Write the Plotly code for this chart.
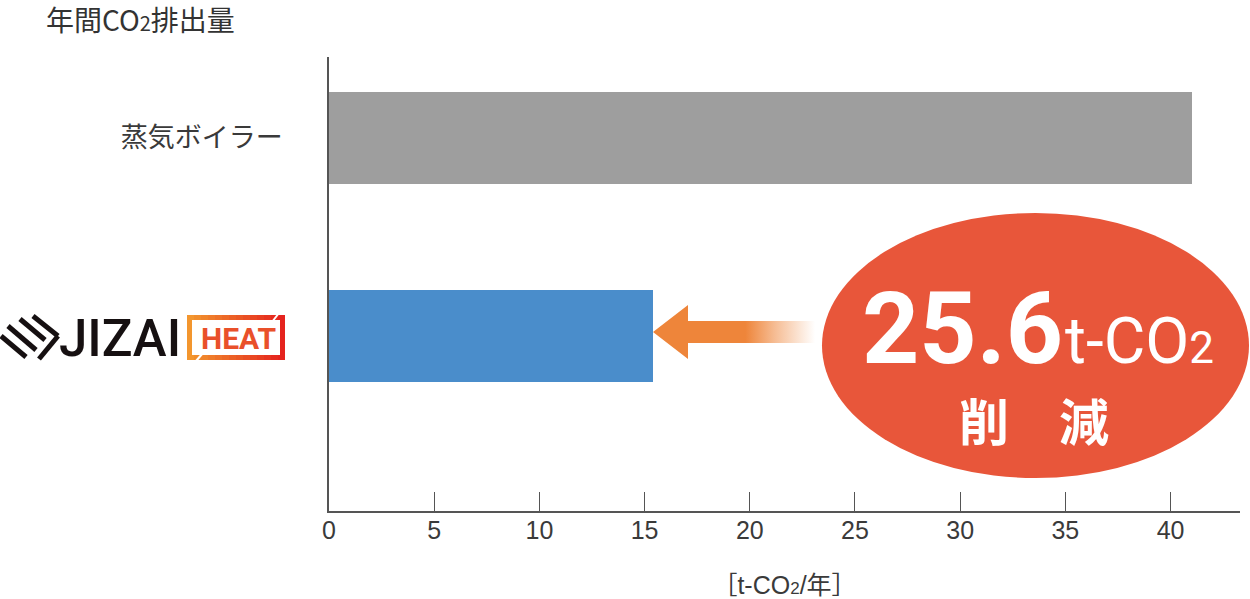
import plotly.graph_objects as go

# ---------------- data ----------------
categories = ["蒸気ボイラー", "JIZAI HEAT"]
values = [41.0, 15.4]
bar_colors = ["#9E9E9E", "#4A8DCB"]
x_tickvals = [0, 5, 10, 15, 20, 25, 30, 35, 40]
x_ticktext = ["0", "5", "10", "15", "20", "25", "30", "35", "40"]
title_text = "年間CO<span style='font-size:20px'>2</span>排出量"
x_title_text = "［t-CO<span style='font-size:17px'>2</span>/年］"
reduction_value = "25.6"
reduction_unit = "t-CO<span style='font-size:44px'>2</span>"
reduction_word = "削　減"
logo_word = "JIZAI"
logo_badge = "HEAT"

# ---------------- layout geometry (pixels) ----------------
W, H = 1250, 599
L, R, T, B = 329, 1240, 57, 511
X_MAX = 43.3
Y_LO, Y_HI = -0.884, 1.409
ypos = list(range(len(categories)))[::-1]   # first category on top

ux = X_MAX / (R - L)          # data units per px (x)
uy = (Y_HI - Y_LO) / (B - T)  # data units per px (y)


def px(x):
    return (x - L) / (R - L)


def py(y):
    return (B - y) / (B - T)


fig = go.Figure()

fig.add_trace(go.Bar(
    x=values, y=ypos, orientation="h",
    marker=dict(color=bar_colors, line=dict(width=0)),
    width=0.465, hoverinfo="x", showlegend=False,
))

# arrow pointing to JIZAI bar end (gradient fade on the tail)
tip = values[1]
yc = ypos[1] + 4 * uy
head_len = 35 * ux
tail_len = 162 * ux
head_h = 27 * uy
shaft_h = 11 * uy
ax = [tip, tip + head_len, tip + head_len, tip + tail_len, tip + tail_len,
      tip + head_len, tip + head_len, tip]
ay = [yc, yc + head_h, yc + shaft_h, yc + shaft_h, yc - shaft_h,
      yc - shaft_h, yc - head_h, yc]
fig.add_trace(go.Scatter(
    x=ax, y=ay, mode="lines", fill="toself", line=dict(width=0),
    fillgradient=dict(type="horizontal", colorscale=[
        [0, "rgba(238,133,58,1)"], [0.57, "rgba(238,133,58,1)"],
        [0.75, "rgba(238,133,58,0.55)"], [1, "rgba(238,133,58,0)"]]),
    hoverinfo="skip", showlegend=False,
))

shapes = []
# big ellipse
shapes.append(dict(type="circle", xref="paper", yref="paper",
                   x0=px(822), x1=px(1249), y0=py(478), y1=py(213),
                   fillcolor="#E8563A", line=dict(width=0), layer="above"))

# logo chevron icon
for (x0, y0, x1, y1) in [(33, 316, 58, 336), (58, 336, 39, 359),
                         (20, 319, 45, 340), (8, 326, 36, 350), (1, 336, 26, 357)]:
    shapes.append(dict(type="line", xref="paper", yref="paper",
                       x0=px(x0), y0=py(y0), x1=px(x1), y1=py(y1),
                       line=dict(color="#161011", width=5)))

# HEAT badge: gradient border via slices
n = 14
c0 = (243, 150, 46)
c1 = (229, 35, 30)
bx0, bx1, by0, by1 = 187, 285, 315, 360
for i in range(n):
    t = i / (n - 1)
    col = "rgb(%d,%d,%d)" % tuple(int(c0[k] + (c1[k] - c0[k]) * t) for k in range(3))
    xa = bx0 + (bx1 - bx0) * i / n
    xb = bx0 + (bx1 - bx0) * (i + 1) / n + 0.6
    shapes.append(dict(type="rect", xref="paper", yref="paper",
                       x0=px(xa), x1=px(min(xb, bx1)), y0=py(by1), y1=py(by0),
                       fillcolor=col, line=dict(width=0)))
shapes.append(dict(type="rect", xref="paper", yref="paper",
                   x0=px(192), x1=px(280), y0=py(355), y1=py(320),
                   fillcolor="white", line=dict(width=0)))
for (x0, y0, x1, y1) in [(272, 322, 279, 313), (196, 361, 203, 353)]:
    shapes.append(dict(type="line", xref="paper", yref="paper",
                       x0=px(x0), y0=py(y0), x1=px(x1), y1=py(y1),
                       line=dict(color="white", width=2)))

annotations = []
annotations.append(dict(text=title_text, xref="paper", yref="paper",
                        x=px(44), y=py(41), xanchor="left", yanchor="bottom",
                        showarrow=False,
                        font=dict(family="Noto Sans CJK JP", size=28, color="#333333")))
annotations.append(dict(text=logo_word, xref="paper", yref="paper",
                        x=px(120), y=py(338), xanchor="center", yanchor="middle",
                        showarrow=False,
                        font=dict(family="Roboto", size=51, color="#161011", weight=500)))
annotations.append(dict(text="<b>" + logo_badge + "</b>", xref="paper", yref="paper",
                        x=px(238), y=py(338), xanchor="center", yanchor="middle",
                        showarrow=False,
                        font=dict(family="Roboto", size=30, color="#E9502A")))
annotations.append(dict(text="<b>" + reduction_value + "</b>", xref="paper", yref="paper",
                        x=px(962), y=py(328), xanchor="center", yanchor="middle",
                        showarrow=False,
                        font=dict(family="Roboto", size=100, color="white")))
annotations.append(dict(text=reduction_unit, xref="paper", yref="paper",
                        x=px(1139), y=py(341), xanchor="center", yanchor="middle",
                        showarrow=False,
                        font=dict(family="Roboto", size=64, color="white")))
annotations.append(dict(text="<b>" + reduction_word + "</b>", xref="paper", yref="paper",
                        x=px(1034), y=py(419), xanchor="center", yanchor="middle",
                        showarrow=False,
                        font=dict(family="Noto Sans CJK JP", size=50, color="white")))

fig.update_layout(
    width=W, height=H,
    margin=dict(l=L, r=W - R, t=T, b=H - B, autoexpand=False),
    paper_bgcolor="white", plot_bgcolor="white",
    shapes=shapes, annotations=annotations,
    bargap=0,
    font=dict(family="Liberation Sans, Noto Sans CJK JP", color="#3a3a3a"),
    xaxis=dict(
        range=[0, X_MAX], tickvals=x_tickvals, ticktext=x_ticktext,
        ticks="inside", ticklen=19, tickcolor="#555555", tickwidth=1,
        showline=True, linecolor="#555555", linewidth=1.5,
        showgrid=False, zeroline=False,
        tickfont=dict(family="Liberation Sans", size=25, color="#3a3a3a"),
        ticklabelstandoff=-4,
        title=dict(text=x_title_text, standoff=35,
                   font=dict(family="Liberation Sans, Noto Sans CJK JP", size=25,
                             color="#3a3a3a")),
        automargin=False,
        fixedrange=True,
    ),
    yaxis=dict(
        range=[Y_LO, Y_HI], tickvals=[ypos[0]], ticktext=[categories[0]],
        ticks="", showline=True, linecolor="#555555", linewidth=1.5,
        showgrid=False, zeroline=False,
        tickfont=dict(family="Noto Sans CJK JP", size=27, color="#3a3a3a"),
        ticklabelstandoff=39,
        automargin=False,
        fixedrange=True,
    ),
)

fig.write_html("out.html",
               config={"displayModeBar": False},
               post_script="document.body.style.margin='0px';"
                           "document.body.style.overflow='hidden';")
